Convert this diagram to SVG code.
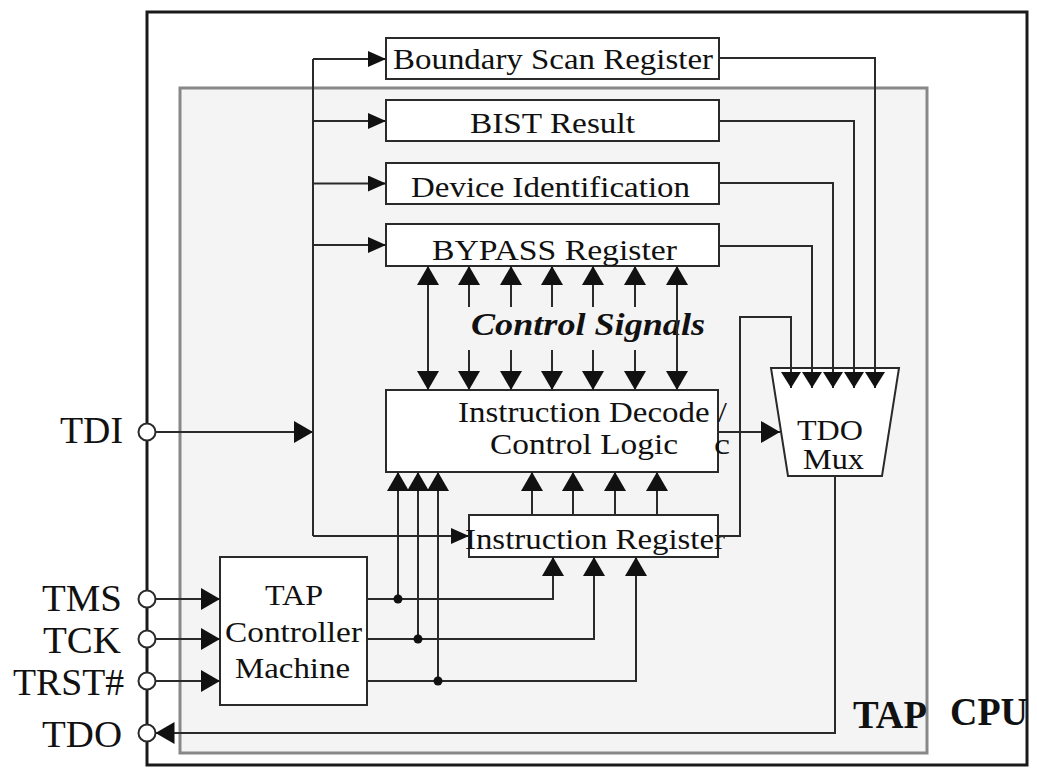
<svg xmlns="http://www.w3.org/2000/svg" width="1037" height="770" viewBox="0 0 1037 770">
<style>
.box{fill:#fff;stroke:#2a2a2a;stroke-width:2}
.ln{fill:none;stroke:#2a2a2a;stroke-width:2}
.t{font-family:"Liberation Serif","Times New Roman",serif;font-size:29px;fill:#111}
.pin{font-family:"Liberation Serif","Times New Roman",serif;font-size:38px;fill:#111}
.big{font-family:"Liberation Serif","Times New Roman",serif;font-size:40px;font-weight:bold;fill:#111}
.pc{fill:#fff;stroke:#2a2a2a;stroke-width:2}
.dot{fill:#111}
</style>
<defs>
<marker id="a" markerUnits="userSpaceOnUse" markerWidth="19" markerHeight="17" refX="18" refY="8" orient="auto-start-reverse"><path d="M0,0 L18,8 L0,16 z" fill="#111"/></marker>
<marker id="b" markerUnits="userSpaceOnUse" markerWidth="20" markerHeight="22" refX="19" refY="11" orient="auto-start-reverse"><path d="M0,0 L19,11 L0,22 z" fill="#111"/></marker>
<marker id="c" markerUnits="userSpaceOnUse" markerWidth="17" markerHeight="21" refX="16" refY="10" orient="auto"><path d="M0,0 L16,10 L0,20 z" fill="#111"/></marker>
</defs>
<rect width="1037" height="770" fill="#fff"/>
<g id="cpu">
<rect x="147" y="12" width="880" height="753" fill="#fff" stroke="#1a1a1a" stroke-width="3"/>
<text class="big" x="950" y="725" textLength="78" lengthAdjust="spacingAndGlyphs">CPU</text>
</g>
<g id="tap">
<rect x="180" y="88" width="747" height="665" fill="#f4f4f4" stroke="#888" stroke-width="3"/>
<text class="big" x="853" y="728" textLength="74" lengthAdjust="spacingAndGlyphs">TAP</text>
</g>
<g id="bsr"><rect class="box" x="386" y="38" width="333" height="41"/><text class="t" x="393" y="69" font-size="28" textLength="320" lengthAdjust="spacingAndGlyphs">Boundary Scan Register</text></g>
<g id="bist"><rect class="box" x="386" y="100" width="333" height="41"/><text class="t" x="470" y="133" textLength="165" lengthAdjust="spacingAndGlyphs">BIST Result</text></g>
<g id="devid"><rect class="box" x="386" y="163" width="333" height="41"/><text class="t" x="411" y="196.5" textLength="279" lengthAdjust="spacingAndGlyphs">Device Identification</text></g>
<g id="bypass"><rect class="box" x="386" y="224" width="333" height="42"/><text class="t" x="432" y="259.5" textLength="245" lengthAdjust="spacingAndGlyphs">BYPASS Register</text></g>
<g id="decode"><rect class="box" x="386" y="390" width="332" height="82"/>
<text class="t" x="458" y="422" textLength="269" lengthAdjust="spacingAndGlyphs">Instruction Decode /</text>
<text class="t" x="490" y="454" textLength="188" lengthAdjust="spacingAndGlyphs">Control Logic</text>
<text class="t" x="714" y="454" font-size="38" textLength="16" lengthAdjust="spacingAndGlyphs">c</text></g>
<g id="ir"><rect class="box" x="469" y="515" width="249" height="42"/><text class="t" x="465" y="549" textLength="260" lengthAdjust="spacingAndGlyphs">Instruction Register</text></g>
<g id="tapctl"><rect class="box" x="220" y="557" width="147" height="148"/>
<text class="t" x="265" y="605" textLength="58" lengthAdjust="spacingAndGlyphs">TAP</text>
<text class="t" x="225" y="642" textLength="137" lengthAdjust="spacingAndGlyphs">Controller</text>
<text class="t" x="235" y="678" textLength="115" lengthAdjust="spacingAndGlyphs">Machine</text></g>
<g id="mux"><path class="box" d="M771,368 L899,368 L882,476 L788,476 z"/>
<text class="t" x="797" y="440" font-size="26" textLength="66" lengthAdjust="spacingAndGlyphs">TDO</text>
<text class="t" x="803" y="469" font-size="26" textLength="61" lengthAdjust="spacingAndGlyphs">Mux</text></g>
<g id="ctrl"><text x="471" y="335" font-family="Liberation Serif, Times New Roman, serif" font-size="32" font-weight="bold" font-style="italic" fill="#111" textLength="234" lengthAdjust="spacingAndGlyphs">Control Signals</text></g>
<g id="pins">
<text class="pin" x="60" y="443" textLength="63" lengthAdjust="spacingAndGlyphs">TDI</text>
<text class="pin" x="42" y="610.7" textLength="80" lengthAdjust="spacingAndGlyphs">TMS</text>
<text class="pin" x="43" y="653" textLength="78" lengthAdjust="spacingAndGlyphs">TCK</text>
<text class="pin" x="13" y="695" textLength="111" lengthAdjust="spacingAndGlyphs">TRST#</text>
<text class="pin" x="42" y="746.7" textLength="80" lengthAdjust="spacingAndGlyphs">TDO</text>
</g>
<g id="connectors">
<path class="ln" d="M313,59 V536"/>
<path class="ln" d="M313,59 H386" marker-end="url(#a)"/>
<path class="ln" d="M313,121 H386" marker-end="url(#a)"/>
<path class="ln" d="M313,183.5 H386" marker-end="url(#a)"/>
<path class="ln" d="M313,245 H386" marker-end="url(#a)"/>
<path class="ln" d="M313,536 H469" marker-end="url(#a)"/>
<path class="ln" d="M155.5,432 H313" marker-end="url(#b)"/>
<path class="ln" d="M719,58 H875 V388" marker-end="url(#c)"/>
<path class="ln" d="M719,121 H854 V388" marker-end="url(#c)"/>
<path class="ln" d="M719,183 H833 V388" marker-end="url(#c)"/>
<path class="ln" d="M719,246 H812 V388" marker-end="url(#c)"/>
<path class="ln" d="M718,536 H740 V317 H791 V388" marker-end="url(#c)"/>
<path class="ln" d="M718,432 H780" marker-end="url(#b)"/>
<path class="ln" d="M835,476 V733 H155.5" marker-end="url(#b)"/>
<path class="ln" d="M428,390 V266" marker-start="url(#b)" marker-end="url(#b)"/>
<path class="ln" d="M677,390 V266" marker-start="url(#b)" marker-end="url(#b)"/>
<path class="ln" d="M469,307 V266" marker-end="url(#b)"/>
<path class="ln" d="M511,307 V266" marker-end="url(#b)"/>
<path class="ln" d="M552,307 V266" marker-end="url(#b)"/>
<path class="ln" d="M593,307 V266" marker-end="url(#b)"/>
<path class="ln" d="M635,307 V266" marker-end="url(#b)"/>
<path class="ln" d="M469,350 V390" marker-end="url(#b)"/>
<path class="ln" d="M511,350 V390" marker-end="url(#b)"/>
<path class="ln" d="M552,350 V390" marker-end="url(#b)"/>
<path class="ln" d="M593,350 V390" marker-end="url(#b)"/>
<path class="ln" d="M635,350 V390" marker-end="url(#b)"/>
<path class="ln" d="M532,515 V472" marker-end="url(#b)"/>
<path class="ln" d="M573,515 V472" marker-end="url(#b)"/>
<path class="ln" d="M615,515 V472" marker-end="url(#b)"/>
<path class="ln" d="M657,515 V472" marker-end="url(#b)"/>
<path class="ln" d="M367,599 H553 V557" marker-end="url(#b)"/>
<path class="ln" d="M367,639 H594 V557" marker-end="url(#b)"/>
<path class="ln" d="M367,681 H636 V557" marker-end="url(#b)"/>
<path class="ln" d="M398,599 V472" marker-end="url(#b)"/>
<path class="ln" d="M418,639 V472" marker-end="url(#b)"/>
<path class="ln" d="M438,681 V472" marker-end="url(#b)"/>
<circle class="dot" cx="398" cy="599" r="4.5"/>
<circle class="dot" cx="418" cy="639" r="4.5"/>
<circle class="dot" cx="438" cy="681" r="4.5"/>
<path class="ln" d="M155.5,599 H220" marker-end="url(#b)"/>
<path class="ln" d="M155.5,639 H220" marker-end="url(#b)"/>
<path class="ln" d="M155.5,681 H220" marker-end="url(#b)"/>
<circle class="pc" cx="147" cy="432" r="8.5"/>
<circle class="pc" cx="147" cy="599" r="8.5"/>
<circle class="pc" cx="147" cy="639" r="8.5"/>
<circle class="pc" cx="147" cy="681" r="8.5"/>
<circle class="pc" cx="147" cy="733" r="8.5"/>
</g>
</svg>
